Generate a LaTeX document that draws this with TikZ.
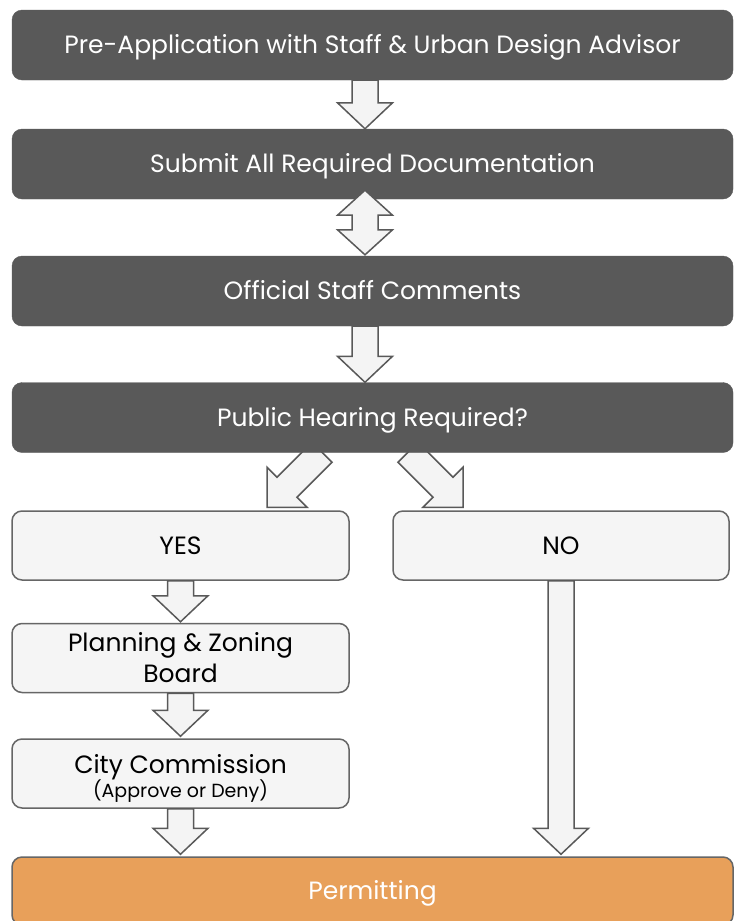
\documentclass[tikz,border=0pt]{standalone}
\usepackage{fontspec}
\setmainfont{Poppins}
\usetikzlibrary{calc,backgrounds}
\definecolor{darkbox}{HTML}{595959}
\definecolor{lightbox}{HTML}{F5F5F5}
\definecolor{edgegray}{HTML}{666666}
\definecolor{orangebox}{HTML}{E8A05A}
\definecolor{arrowfill}{HTML}{F4F4F4}
\newcommand\blockdown[2]{\draw[blockarrow] let \p1=#1, \p2=#2 in
  (\x2-13pt,\y1) -- (\x2-13pt,\y2+26pt) -- (\x2-27.5pt,\y2+26pt) -- (\x2,\y2)
  -- (\x2+27.5pt,\y2+26pt) -- (\x2+13pt,\y2+26pt) -- (\x2+13pt,\y1) -- cycle;}
\begin{document}
\begin{tikzpicture}[x=1pt,y=-1pt,
  oneline/.style={text height=17pt,text depth=0pt},
  darkstep/.style={rectangle,rounded corners=10pt,fill=darkbox,draw=darkbox,
    text=white,font=\fontsize{25}{30}\selectfont,inner sep=0pt,
    minimum width=721pt,minimum height=70pt,oneline},
  lightstep/.style={rectangle,rounded corners=10pt,fill=lightbox,draw=edgegray,
    line width=1.5pt,text=black,font=\fontsize{25}{31}\selectfont,inner sep=0pt,
    minimum width=337pt,minimum height=69pt,align=center},
  finalstep/.style={rectangle,rounded corners=10pt,fill=orangebox,draw=edgegray,
    line width=1.5pt,text=white,font=\fontsize{25}{30}\selectfont,inner sep=0pt,
    minimum width=721pt,minimum height=68pt,oneline},
  blockarrow/.style={fill=arrowfill,draw=darkbox,line width=1.5pt,line join=miter}]
\useasboundingbox (0,0) rectangle (738,921);

\node[darkstep] (pre) at (372.5,45) {Pre-Application with Staff \& Urban Design Advisor};
\node[darkstep] (submit) at (372.5,164) {Submit All Required Documentation};
\node[darkstep] (staff) at (372.5,291) {Official Staff Comments};
\node[darkstep] (hearing) at (372.5,417.5) {Public Hearing Required?};
\node[lightstep,oneline] (yes) at (180.5,545.5) {YES};
\node[lightstep,oneline,minimum width=336pt] (no) at (561,545.5) {NO};
\node[lightstep] (plan) at (180.5,658) {Planning \& Zoning\\Board};
\node[lightstep] (city) at (180.5,773.5) {\rule{0pt}{29pt}City Commission\\[-7pt]{\fontsize{19}{22}\selectfont(Approve or Deny)}};
\node[finalstep] (permit) at (372.5,891) {Permitting};

% straight block arrows
\blockdown{($(pre.south)+(-7.5,0)$)}{($(submit.north)+(-7.5,0)$)}
\blockdown{($(staff.south)+(-7.5,0)$)}{($(hearing.north)+(-7.5,0)$)}
\blockdown{($(yes.south)+(0,0)$)}{($(plan.north)+(0,-1)$)}
\blockdown{($(plan.south)+(0,0)$)}{($(city.north)+(0,-2)$)}
\blockdown{($(city.south)+(0,0)$)}{($(permit.north)+(-192,-2)$)}
\blockdown{($(no.south)+(0,0)$)}{($(permit.north)+(188.5,-2)$)}

% double block arrow
\draw[blockarrow] let \p1=($(submit.south)+(-7.5,-9)$), \p2=($(staff.north)+(-7.5,-1)$) in
  (\x1,\y1) -- (\x1+27.5pt,\y1-25pt) -- (\x1+13pt,\y1-25pt) -- (\x1+13pt,\y2+25pt)
  -- (\x1+27.5pt,\y2+25pt) -- (\x2,\y2) -- (\x1-27.5pt,\y2+25pt) -- (\x1-13pt,\y2+25pt)
  -- (\x1-13pt,\y1-25pt) -- (\x1-27.5pt,\y1-25pt) -- cycle;

% diagonal block arrows (behind the boxes)
\coordinate (ltip) at ($(yes.north)+(86.5,-3)$);
\coordinate (rtip) at ($(no.north)+(-98,-3)$);
\begin{scope}[on background layer]
\draw[blockarrow,shift={(ltip)}] (45,-65) -- (10,-30) -- (0,-40) -- (0,0) -- (40,0) -- (30,-10) -- (65,-45) -- cycle;
\draw[blockarrow,shift={(rtip)}] (-45,-65) -- (-10,-30) -- (0,-40) -- (0,0) -- (-40,0) -- (-30,-10) -- (-65,-45) -- cycle;
\end{scope}
\end{tikzpicture}
\end{document}
